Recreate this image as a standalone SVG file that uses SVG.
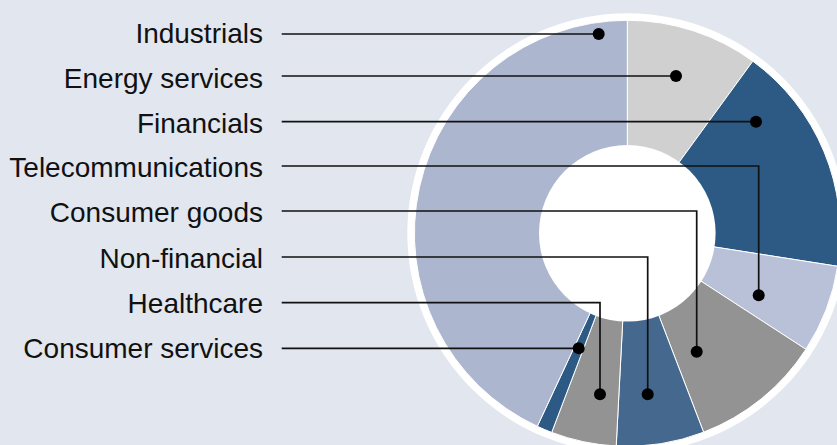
<svg xmlns="http://www.w3.org/2000/svg" width="837" height="445" viewBox="0 0 837 445">
<style>
.lbl{font-family:"Liberation Sans",Arial,Helvetica,sans-serif;font-size:28px;fill:#111;text-anchor:end}
.sl{stroke:#fff;stroke-width:1;stroke-linejoin:round}
.ld{fill:none;stroke:#111;stroke-width:1.7}
.dot{fill:#000}
</style>
<rect width="837" height="445" fill="#e1e6ef"/>
<g id="donut">
<circle cx="627.3" cy="233.3" r="220" fill="#fff"/>
<path id="s-energy" class="sl" fill="#d0d0d0" d="M627.3,233.3 L627.3,20.3 A213,213 0 0 1 752.8,61.2 Z"/>
<path id="s-financials" class="sl" fill="#2c5a84" d="M627.3,233.3 L752.8,61.2 A213,213 0 0 1 837.7,266.3 Z"/>
<path id="s-telecom" class="sl" fill="#b8c1d7" d="M627.3,233.3 L837.7,266.3 A213,213 0 0 1 805.9,349.3 Z"/>
<path id="s-congoods" class="sl" fill="#939393" d="M627.3,233.3 L805.9,349.3 A213,213 0 0 1 703.6,432.2 Z"/>
<path id="s-nonfin" class="sl" fill="#45688f" d="M627.3,233.3 L703.6,432.2 A213,213 0 0 1 616.2,446.0 Z"/>
<path id="s-health" class="sl" fill="#939393" d="M627.3,233.3 L616.2,446.0 A213,213 0 0 1 551.7,432.4 Z"/>
<path id="s-conserv" class="sl" fill="#2c5a84" d="M627.3,233.3 L551.7,432.4 A213,213 0 0 1 537.3,426.3 Z"/>
<path id="s-industrials" class="sl" fill="#acb7cf" d="M627.3,233.3 L537.3,426.3 A213,213 0 0 1 627.3,20.3 Z"/>
<circle cx="627.3" cy="233.3" r="88.3" fill="#fff"/>
</g>
<g id="labels">
<text id="t-industrials" class="lbl" x="263" y="43.3">Industrials</text>
<text id="t-energy" class="lbl" x="263" y="87.5">Energy services</text>
<text id="t-financials" class="lbl" x="263" y="132.5">Financials</text>
<text id="t-telecom" class="lbl" x="263" y="177">Telecommunications</text>
<text id="t-congoods" class="lbl" x="263" y="222">Consumer goods</text>
<text id="t-nonfin" class="lbl" x="263" y="267.5">Non-financial</text>
<text id="t-health" class="lbl" x="263" y="313">Healthcare</text>
<text id="t-conserv" class="lbl" x="263" y="358.3">Consumer services</text>
</g>
<g id="connectors">
<path class="ld" d="M281.7,34 H598.7"/>
<path class="ld" d="M281.7,76 H676"/>
<path class="ld" d="M281.7,121.7 H756"/>
<path class="ld" d="M281.7,166 H758.7 V295.3"/>
<path class="ld" d="M281.7,211 H696.7 V351.7"/>
<path class="ld" d="M281.7,257 H647.7 V394.3"/>
<path class="ld" d="M281.7,302.7 H600 V394.3"/>
<path class="ld" d="M281.7,348.3 H578.7"/>
<circle class="dot" cx="598.7" cy="34" r="6"/>
<circle class="dot" cx="676" cy="76" r="6"/>
<circle class="dot" cx="756" cy="121.7" r="6"/>
<circle class="dot" cx="758.7" cy="295.3" r="6"/>
<circle class="dot" cx="696.7" cy="351.7" r="6"/>
<circle class="dot" cx="647.7" cy="394.3" r="6"/>
<circle class="dot" cx="600" cy="394.3" r="6"/>
<circle class="dot" cx="578.7" cy="348.3" r="6"/>
</g>
</svg>
